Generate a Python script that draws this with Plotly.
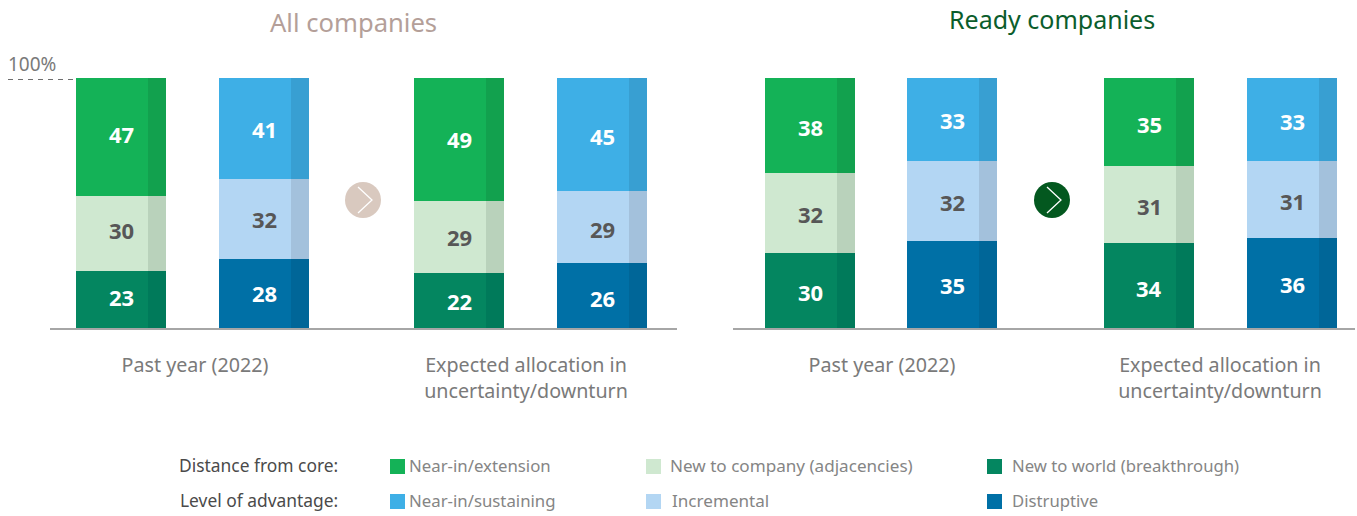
import plotly.graph_objects as go

W, H = 1357, 516
FONT = "Noto Sans"

# ---- data ----
all_outer = [47, 41, 49, 45]      # Near-in/extension, Near-in/sustaining
all_middle = [30, 32, 29, 29]     # New to company, Incremental
all_inner = [23, 28, 22, 26]      # New to world, Disruptive
ready_outer = [38, 33, 35, 33]
ready_middle = [32, 32, 31, 31]
ready_inner = [30, 35, 34, 36]
group_labels = ["Past year (2022)", "Expected allocation in<br>uncertainty/downturn"]
legend_rows = ["Distance from core:", "Level of advantage:"]
legend_names = [["Near-in/extension", "New to company (adjacencies)", "New to world (breakthrough)"],
                ["Near-in/sustaining", "Incremental", "Distruptive"]]

# ---- styles ----
FILL = {"outer": ["#14B257", "#3EAFE6"], "middle": ["#CFE8D0", "#B3D6F3"], "inner": ["#048660", "#0070A6"]}
SHADE = {"outer": ["#12A14E", "#389FD2"], "middle": ["#B9D2BB", "#A3C1DC"], "inner": ["#007A5A", "#006698"]}
TEXTC = {"outer": "white", "middle": "#575757", "inner": "white"}
BAR_W, SHADE_W = 90, 18
Y_BOTTOM, Y_TOP = 328, 78


def alt(pair):
    return [pair[0], pair[1], pair[0], pair[1]]


fig = go.Figure()
panels = [
    dict(ax="x", yax="y", name="xaxis", yname="yaxis", span=(50, 677), centers=[121, 264, 459, 602],
         ticks=[195, 526], data=(all_inner, all_middle, all_outer), shift=[-2.7, 0, 0, 2]),
    dict(ax="x2", yax="y2", name="xaxis2", yname="yaxis2", span=(733, 1355), centers=[810, 952, 1149, 1292],
         ticks=[882, 1220], data=(ready_inner, ready_middle, ready_outer), shift=[1, 1, 2, 1.3]),
]
keys = ["inner", "middle", "outer"]
annotations = []
for p in panels:
    for k, vals in zip(keys, p["data"]):
        fig.add_trace(go.Bar(x=p["centers"], y=vals, width=BAR_W, marker=dict(color=alt(FILL[k]), line_width=0),
                             xaxis=p["ax"], yaxis=p["yax"], showlegend=False, hoverinfo="y"))
    for k, vals in zip(keys, p["data"]):
        fig.add_trace(go.Bar(x=[c + (BAR_W - SHADE_W) / 2 for c in p["centers"]], y=vals, width=SHADE_W,
                             marker=dict(color=alt(SHADE[k]), line_width=0),
                             xaxis=p["ax"], yaxis=p["yax"], showlegend=False, hoverinfo="skip"))
    for i, c in enumerate(p["centers"]):
        col = [d[i] for d in p["data"]]
        total = sum(col)
        base = 0
        for k, v in zip(keys, col):
            annotations.append(dict(x=c, y=(base + v / 2) * 100 / total, xref=p["ax"], yref=p["yax"], text=f"<b>{v}</b>",
                                    showarrow=False, yshift=-p["shift"][i],
                                    font=dict(family=FONT, size=22, color=TEXTC[k])))
            base += v
    fig.update_layout({
        p["name"]: dict(domain=[p["span"][0] / W, p["span"][1] / W], range=list(p["span"]), tickmode="array",
                        tickvals=p["ticks"], ticktext=group_labels, ticks="outside", ticklen=19,
                        tickcolor="rgba(0,0,0,0)", showgrid=False, zeroline=False, showline=True,
                        linecolor="#A6A6A6", linewidth=1.5, tickfont=dict(family=FONT, size=19.7, color="#7A7A7A"),
                        anchor=p["yax"]),
        p["yname"]: dict(domain=[1 - Y_BOTTOM / H, 1 - Y_TOP / H], range=[0, 100], visible=False, anchor=p["ax"]),
    })


def px(x):
    return x / W


def py(y):
    return 1 - y / H


def note(x, y, text, size, color, anchor="left"):
    annotations.append(dict(x=px(x), y=py(y), xref="paper", yref="paper", text=text, showarrow=False,
                            xanchor=anchor, yanchor="middle", font=dict(family=FONT, size=size, color=color)))


note(353, 23, "All companies", 25.6, "#B49F99", "center")
note(1052, 19, "Ready companies", 25, "#0B5D2C", "center")
note(6, 64, "100%", 19, "#7A7A7A")

shapes = [dict(type="line", xref="paper", yref="paper", x0=px(8), x1=px(76), y0=py(79.5), y1=py(79.5),
               line=dict(color="#6E6E6E", width=1, dash="5px,5px"))]
for cx, color in [(363, "#D9C9BF"), (1052, "#03581F")]:
    shapes.append(dict(type="circle", xref="paper", yref="paper", x0=px(cx - 18), x1=px(cx + 18),
                       y0=py(218), y1=py(182), fillcolor=color, line_width=0))
    shapes.append(dict(type="path", xref="paper", yref="paper",
                       path=f"M {px(cx - 5)} {py(187)} L {px(cx + 9)} {py(200)} L {px(cx - 5)} {py(213)}",
                       line=dict(color="white", width=1.3)))

swatch_x = [390, 646, 987]
text_x = [[407, 668, 1010], [407, 670, 1010]]
col_size = [16.8, 17.1, 16.7]
row_y = [466, 501]
for r in range(2):
    note(340, row_y[r] - 1, legend_rows[r], 17.4, "#4A4A4A", "right")
    colors = [FILL["outer"][r], FILL["middle"][r], FILL["inner"][r]]
    for c in range(3):
        shapes.append(dict(type="rect", xref="paper", yref="paper", x0=px(swatch_x[c]), x1=px(swatch_x[c] + 15),
                           y0=py(row_y[r] + 8), y1=py(row_y[r] - 7), fillcolor=colors[c], line_width=0))
        note(text_x[r][c], row_y[r] - 1, legend_names[r][c], col_size[c], "#858585")

fig.update_layout(width=W, height=H, margin=dict(l=0, r=0, t=0, b=0), barmode="stack", barnorm="percent",
                  plot_bgcolor="white", paper_bgcolor="white", annotations=annotations, shapes=shapes,
                  font=dict(family=FONT))
fig.write_html("out.html", config={"displayModeBar": False}, post_script="document.body.style.margin='0';")
